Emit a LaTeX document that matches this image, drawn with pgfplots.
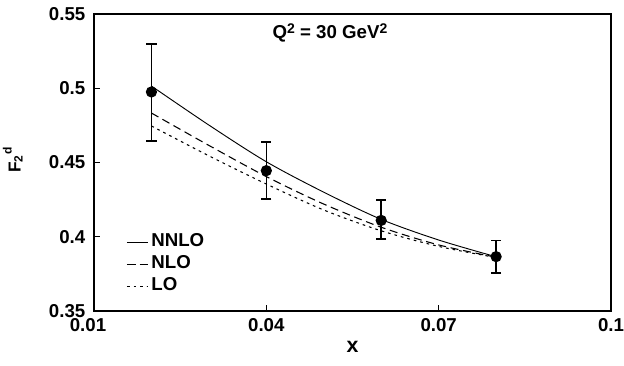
\documentclass[border=0pt]{standalone}
\usepackage{fontspec}
\setmainfont{Liberation Sans}
\usepackage{pgfplots}
\usepackage{pgfplotstable}
\pgfplotsset{compat=1.18}
\pgfplotstableread{
x y ep em
0.02 0.4975 0.0325 0.0330
0.04 0.4445 0.0195 0.0193
0.06 0.4110 0.0138 0.0127
0.08 0.3866 0.0108 0.0108
}\datatab
\newcommand{\supb}[1]{\raisebox{4.3pt}{\fontsize{10.5}{10.5}\selectfont\bfseries #1}}
\begin{document}
\begin{tikzpicture}
\begin{axis}[
  scale only axis, width=387.75pt, height=222.75pt,
  xmin=0.01, xmax=0.1, ymin=0.35, ymax=0.55,
  xtick={0.01,0.04,0.07,0.1}, xticklabels={\hspace*{-9pt}0.01,0.04,0.07,0.1},
  ytick={0.35,0.4,0.45,0.5,0.55}, yticklabels={0.35,0.4,0.45,0.5,0.55},
  xtick pos=bottom, ytick pos=left,
  tick align=inside, major tick length=4.5pt,
  tick style={black, line width=0.8pt},
  axis line style={line width=1.2pt},
  ticklabel style={font=\fontsize{14}{16}\selectfont\bfseries},
  xticklabel style={yshift=-2pt},
  yticklabel style={xshift=-3pt},
  xlabel={x}, ylabel={F\raisebox{-1.5pt}{\fontsize{9}{9}\selectfont\bfseries 2}\hspace{1pt}\raisebox{6.8pt}{\fontsize{9}{9}\selectfont\bfseries d}},
  xlabel style={at={(axis description cs:0.5,-0.121)}, anchor=center, font=\fontsize{16}{18}\selectfont\bfseries},
  ylabel style={at={(axis description cs:-0.157,0.509)}, anchor=center, font=\fontsize{13}{15}\selectfont\bfseries},
  legend image code/.code={\draw[mark repeat=2,mark phase=2] plot coordinates {(0pt,0pt) (8pt,0pt) (16pt,0pt)};},
  legend style={at={(rel axis cs:0.062,0.27)}, anchor=north west, draw=none, fill=none, inner sep=0pt,
    row sep=0pt, font=\fontsize{14}{16}\selectfont\bfseries, cells={anchor=west},
    nodes={inner xsep=2pt, inner ysep=1pt, text height=10.5pt, text depth=4.2pt}},
  legend cell align=left,
]
\addplot[black, line width=0.7pt, smooth] coordinates {
(0.02,0.5015) (0.03,0.4752) (0.04,0.4505) (0.05,0.4300) (0.06,0.4117) (0.07,0.3978) (0.08,0.3865)};
\addlegendentry{NNLO}
\addplot[black, line width=0.8pt, smooth, dash pattern=on 6pt off 3.5pt] coordinates {
(0.02,0.4833) (0.03,0.4615) (0.04,0.4405) (0.05,0.4220) (0.06,0.4064) (0.07,0.3945) (0.08,0.3862)};
\addlegendentry{NLO}
\addplot[black, line width=0.8pt, smooth, dash pattern=on 2pt off 3pt] coordinates {
(0.02,0.4746) (0.03,0.4545) (0.04,0.4355) (0.05,0.4180) (0.06,0.4040) (0.07,0.3935) (0.08,0.3860)};
\addlegendentry{LO}
\addplot[black, only marks, mark=*, mark size=3.7pt, line width=1pt,
  error bars/.cd, y dir=both, y explicit,
  error bar style={line width=1.1pt},
  error mark options={rotate=90, mark size=3.8pt, line width=1.3pt}]
  table[x=x, y=y, y error plus=ep, y error minus=em] {\datatab};
\node[anchor=base, font=\fontsize{14}{16}\selectfont\bfseries] at (rel axis cs:0.4565,0.916) {Q\supb{2} = 30 GeV\supb{2}};
\end{axis}
\path (current axis.south west) ++(-70.5pt,-41.25pt) coordinate (A);
\path (current axis.north east) ++(9.75pt,10.5pt) coordinate (B);
\pgfresetboundingbox
\path (A) rectangle (B);
\end{tikzpicture}
\end{document}
